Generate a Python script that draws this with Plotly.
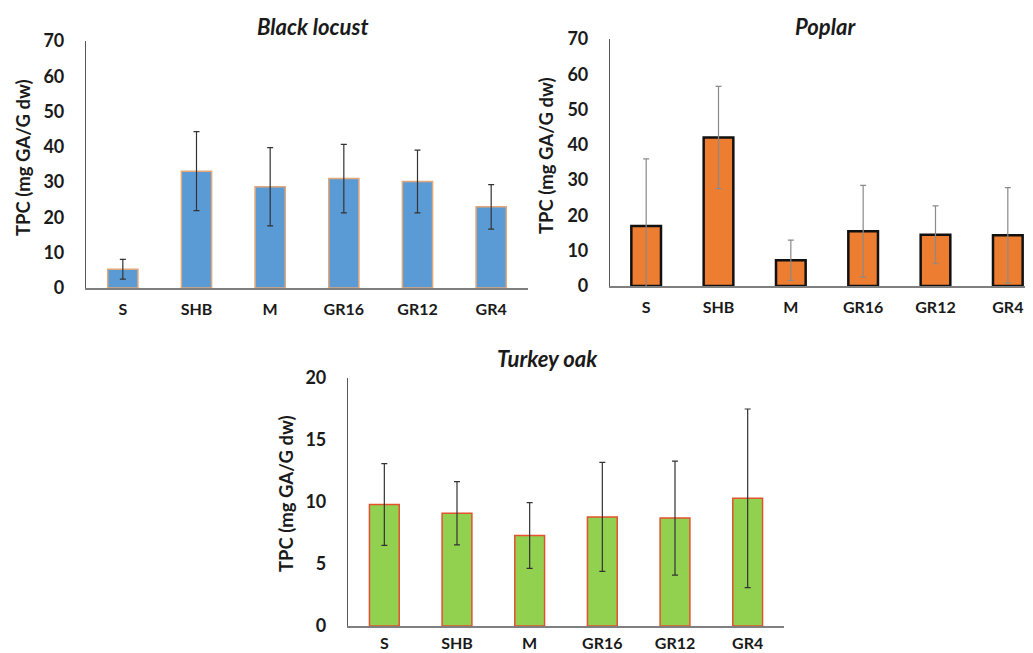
import plotly.graph_objects as go

categories = ["S", "SHB", "M", "GR16", "GR12", "GR4"]

locust_values = [5.3, 33.1, 28.7, 31.0, 30.2, 23.0]
locust_errors = [2.8, 11.2, 11.1, 9.7, 8.9, 6.3]

poplar_values = [17.0, 42.1, 7.3, 15.5, 14.5, 14.4]
poplar_errors = [19.0, 14.5, 5.7, 13.0, 8.2, 13.5]

oak_values = [9.8, 9.1, 7.3, 8.8, 8.7, 10.3]
oak_errors = [3.3, 2.55, 2.65, 4.4, 4.6, 7.2]

titles = ["Black locust", "Poplar", "Turkey oak"]
y_title = "TPC (mg GA/G dw)"

# page body has an 8px margin; figure fills the rest of the 1033x653 window
OFF = 8
W, H = 1033 - OFF, 653 - OFF
FONT = "Lato"

fig = go.Figure()


def px_x(p):
    return (p - OFF) / W


def px_y(p):
    return 1 - (p - OFF) / H


panels = [
    dict(vals=locust_values, errs=locust_errors, fill="#5B9BD5", line="#E3A779", lw=1.5,
         ecol="#333333", xd=[px_x(86), px_x(528)], yd=[px_y(288), px_y(41)],
         yrange=[0, 70], dtick=10, xr=[-0.5, 5.5], title_xy=(312, 26), ytitle_xy=(23, 158),
         xstand=6),
    dict(vals=poplar_values, errs=poplar_errors, fill="#ED7D31", line="#111111", lw=2.5,
         ecol="#8a8a8a", xd=[px_x(610), 1.0], yd=[px_y(286), px_y(39)],
         yrange=[0, 70], dtick=10, xr=[-0.5, 5.5 - 11 / 72.4], title_xy=(825, 26), ytitle_xy=(546, 156),
         xstand=6),
    dict(vals=oak_values, errs=oak_errors, fill="#92D050", line="#E2522E", lw=1.5,
         ecol="#333333", xd=[px_x(348), px_x(784)], yd=[px_y(626), px_y(378)],
         yrange=[0, 20], dtick=5, xr=[-0.5, 5.5], title_xy=(547, 358), ytitle_xy=(286, 494),
         xstand=2),
]

for i, p in enumerate(panels):
    n = "" if i == 0 else str(i + 1)
    fig.add_trace(go.Bar(
        x=categories, y=p["vals"], width=0.41,
        marker=dict(color=p["fill"], line=dict(color=p["line"], width=p["lw"])),
        error_y=dict(type="data", array=p["errs"], visible=True, color=p["ecol"],
                     thickness=1.2, width=3),
        xaxis="x" + n, yaxis="y" + n, showlegend=False,
    ))
    fig.layout["xaxis" + n] = dict(
        domain=p["xd"], anchor="y" + n, range=p["xr"], showline=True,
        linecolor="#7f7f7f", linewidth=1.5, showgrid=False, ticks="",
        tickfont=dict(family=FONT, size=16, color="#1a1a1a", weight="bold"),
        ticklabelstandoff=p["xstand"], automargin=False, fixedrange=True,
    )
    fig.layout["yaxis" + n] = dict(
        domain=p["yd"], anchor="x" + n, range=p["yrange"], dtick=p["dtick"],
        showline=True, linecolor="#595959", linewidth=1.2, showgrid=False,
        zeroline=False, ticks="", automargin=False,
        tickfont=dict(family=FONT, size=18, color="#1a1a1a", weight="bold"),
        ticklabelstandoff=17,
    )
    tx, ty = p["title_xy"]
    fig.add_annotation(text="<b><i>" + titles[i] + "</i></b>", x=px_x(tx), y=px_y(ty),
                       xref="paper", yref="paper", showarrow=False,
                       font=dict(family=FONT, size=22, color="#1a1a1a"),
                       xanchor="center", yanchor="middle")
    ax_, ay_ = p["ytitle_xy"]
    fig.add_annotation(text="<b>" + y_title + "</b>", x=px_x(ax_), y=px_y(ay_),
                       xref="paper", yref="paper", showarrow=False, textangle=-90,
                       font=dict(family=FONT, size=18.5, color="#1a1a1a"),
                       xanchor="center", yanchor="middle")

fig.update_layout(
    width=W, height=H,
    margin=dict(l=0, r=0, t=0, b=0),
    paper_bgcolor="white", plot_bgcolor="white",
    bargap=0.59,
)

fig.write_html("out.html")
